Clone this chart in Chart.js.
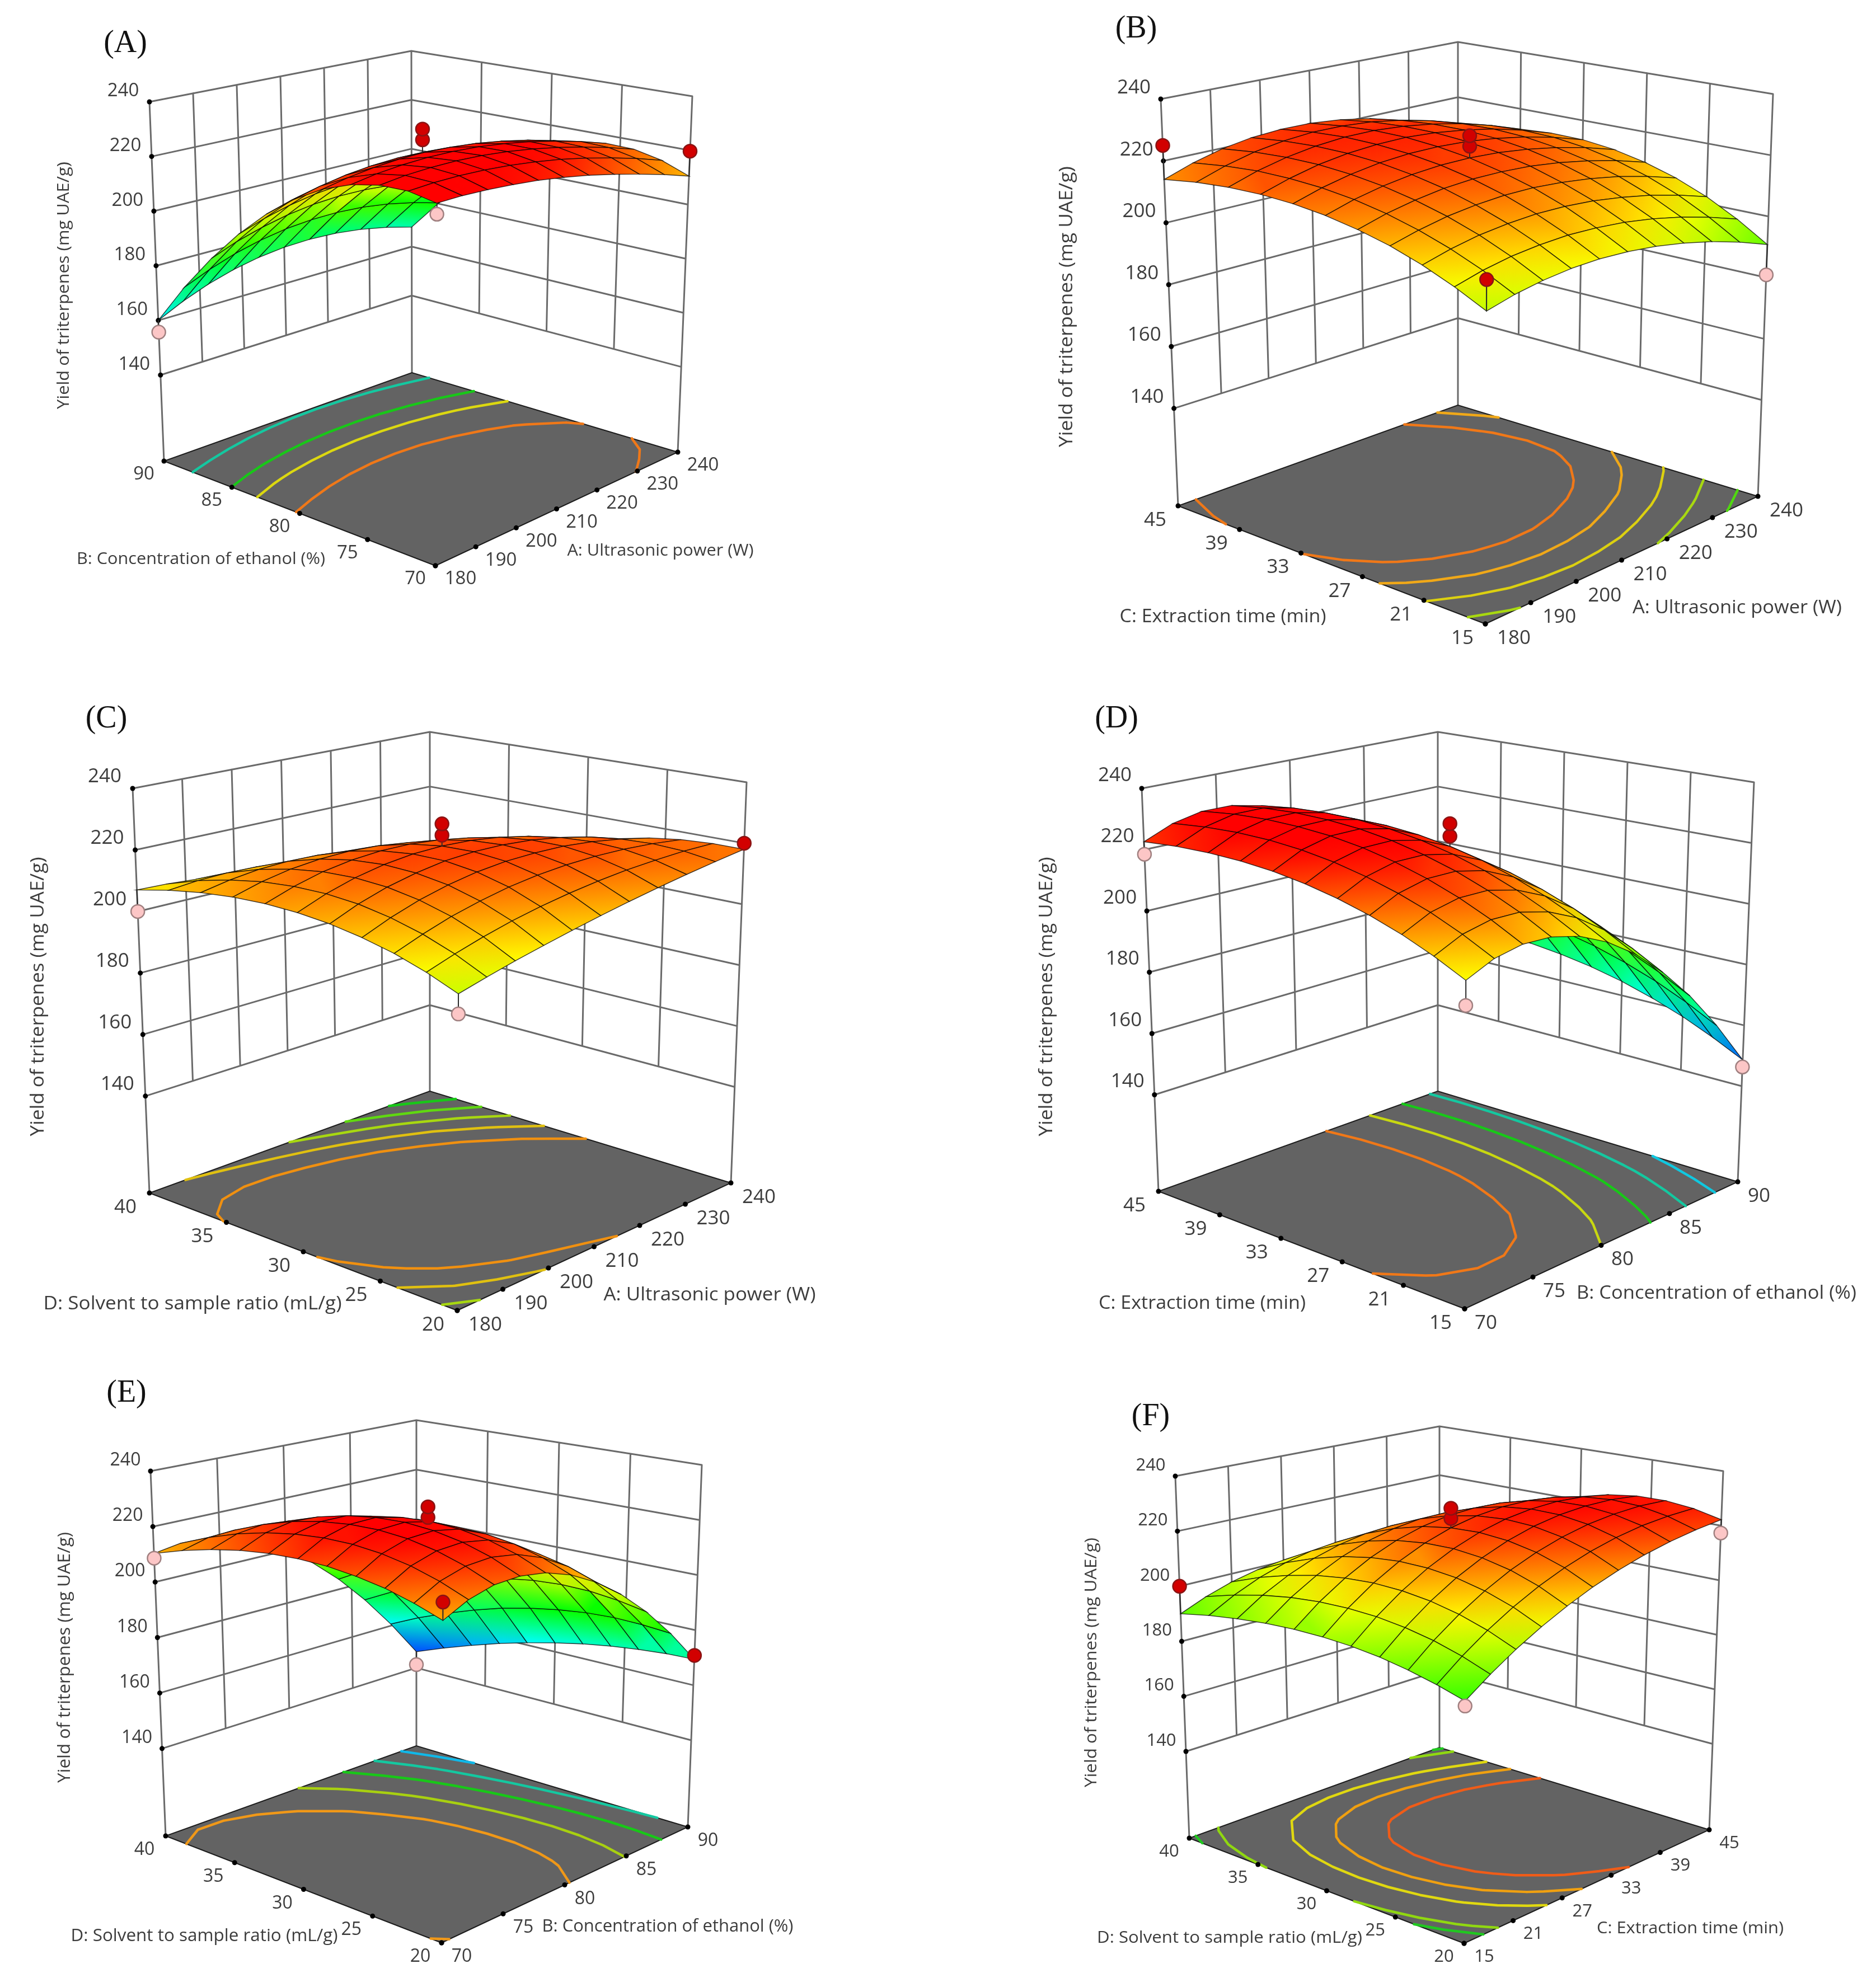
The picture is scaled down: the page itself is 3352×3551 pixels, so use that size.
<!DOCTYPE html>
<html>
<head>
<meta charset="utf-8">
<title>Yield of triterpenes response surfaces</title>
<style>
  html, body { margin: 0; padding: 0; background: #fff; }
  body { position: relative; width: 3352px; height: 3551px; overflow: hidden; }
  canvas { position: absolute; }
</style>
<script src="https://cdn.jsdelivr.net/npm/chart.js@4/dist/chart.umd.min.js"></script>
</head>
<body>
<script>
const powerTicks = [180, 190, 200, 210, 220, 230, 240];
const ethanolTicks = [70, 75, 80, 85, 90];
const timeTicks = [15, 21, 27, 33, 39, 45];
const ratioTicks = [20, 25, 30, 35, 40];
const yieldTicks = [140, 160, 180, 200, 220, 240];

// surfaces: one row per 10% step of the second factor, one column per 10% step of the first
const yieldA = [
  [227,227.1,226.7,226,225,223.5,221.7,219.4,216.8,213.9,210.5],
  [228.8,229.3,229.3,228.9,228.1,226.9,225.3,223.2,220.7,217.8,214.4],
  [228.6,229.6,230,230,229.5,228.5,227,225.1,222.7,219.9,216.6],
  [226.6,228,228.8,229.1,228.9,228.2,226.9,225.2,222.9,220.2,216.9],
  [222.8,224.5,225.7,226.4,226.5,226,225,223.4,221.3,218.6,215.3],
  [217,219.2,220.8,221.8,222.2,222,221.2,219.8,217.8,215.2,212],
  [209.4,212,214,215.3,216,216.1,215.6,214.3,212.5,210,206.8],
  [199.8,202.9,205.3,207,208,208.4,208,207,205.3,202.9,199.9],
  [188.4,192,194.7,196.8,198.2,198.8,198.7,197.9,196.3,194,191.1],
  [175.2,179.1,182.3,184.7,186.4,187.3,187.5,186.9,185.5,183.3,180.4],
  [160,164.4,168,170.8,172.8,174,174.4,174,172.8,170.8,168]
];
const yieldB = [
  [198.7,200.9,202.4,203.3,203.5,203,201.9,200.1,197.7,194.6,190.8],
  [203.3,205.6,207.2,208.1,208.5,208.1,207.2,205.6,203.4,200.5,197],
  [207.3,209.6,211.3,212.3,212.8,212.6,211.8,210.3,208.3,205.6,202.3],
  [210.6,212.9,214.7,215.8,216.4,216.3,215.5,214.2,212.3,209.7,206.5],
  [213.1,215.6,217.4,218.7,219.3,219.2,218.6,217.3,215.4,212.9,209.7],
  [215,217.6,219.5,220.8,221.5,221.5,220.9,219.6,217.7,215.2,212],
  [216.2,218.9,220.9,222.3,223,223,222.4,221.1,219.2,216.6,213.3],
  [216.7,219.5,221.7,223.1,223.8,223.9,223.2,221.8,219.8,217,213.5],
  [216.5,219.5,221.7,223.2,224,224,223.2,221.7,219.5,216.5,212.8],
  [215.6,218.7,221.1,222.6,223.4,223.3,222.5,220.8,218.4,215.2,211.1],
  [214,217.3,219.8,221.4,222.1,222,221,219.2,216.4,212.9,208.4]
];
const yieldC = [
  [199.6,201.9,204.1,206.1,208.1,210,211.8,213.5,215.1,216.6,218],
  [203.5,206.4,209,211.3,213.2,214.8,216.1,217.1,217.7,218.1,218],
  [206.7,210,212.9,215.2,217.1,218.4,219.2,219.5,219.3,218.6,217.4],
  [209.1,212.7,215.7,218,219.7,220.7,221,220.8,219.8,218.2,216],
  [210.9,214.6,217.5,219.6,221.1,221.7,221.6,220.8,219.2,216.9,213.8],
  [212,215.5,218.2,220.1,221.2,221.5,221,219.7,217.6,214.7,211],
  [212.4,215.5,217.9,219.4,220.1,220,219.1,217.4,214.9,211.6,207.4],
  [212.1,214.7,216.5,217.5,217.8,217.3,216,214,211.1,207.5,203.2],
  [211.1,212.9,214.1,214.5,214.2,213.3,211.6,209.3,206.3,202.6,198.2],
  [209.4,210.3,210.6,210.3,209.4,208,206,203.5,200.4,196.7,192.4],
  [207,206.7,206,204.9,203.4,201.5,199.2,196.5,193.4,189.9,186]
];
const yieldD = [
  [203.8,207.6,209.3,208.9,206.5,202,195.5,186.8,176.2,163.4,148.6],
  [208.5,212.5,214.4,214.2,211.8,207.4,200.8,192.2,181.4,168.5,153.5],
  [212.6,216.8,218.8,218.7,216.4,212,205.5,196.8,186,173,157.9],
  [216,220.3,222.5,222.5,220.3,215.9,209.4,200.7,189.9,176.8,161.6],
  [218.8,223.2,225.5,225.5,223.4,219.1,212.6,203.9,193.1,180,164.8],
  [221,225.5,227.8,227.9,225.8,221.5,215,206.4,195.5,182.5,167.3],
  [222.6,227.1,229.4,229.5,227.4,223.2,216.7,208.1,197.4,184.4,169.2],
  [223.5,228,230.2,230.3,228.3,224.1,217.7,209.2,198.5,185.6,170.6],
  [223.8,228.2,230.4,230.5,228.4,224.2,217.9,209.5,198.9,186.2,171.3],
  [223.5,227.7,229.9,229.9,227.8,223.6,217.4,209,198.6,186.1,171.5],
  [222.6,226.6,228.6,228.5,226.4,222.3,216.1,207.9,197.6,185.3,171]
];
const yieldE = [
  [211.7,215.9,218.3,218.7,217.3,214,208.8,201.8,192.9,182.1,169.4],
  [215,219.7,222.3,222.9,221.4,217.8,212.2,204.5,194.7,182.9,169.1],
  [217.6,222.6,225.3,225.9,224.3,220.5,214.4,206.2,195.8,183.2,168.3],
  [219.3,224.5,227.3,227.8,226,222,215.6,206.9,196,182.7,167.1],
  [220.4,225.5,228.2,228.6,226.6,222.3,215.6,206.6,195.3,181.5,165.5],
  [220.6,225.5,228,228.2,226,221.5,214.6,205.3,193.7,179.7,163.4],
  [220.1,224.6,226.8,226.7,224.3,219.5,212.5,203.1,191.3,177.3,160.9],
  [218.8,222.8,224.6,224.1,221.4,216.4,209.2,199.8,188.1,174.1,158],
  [216.7,220.1,221.3,220.4,217.3,212.2,204.9,195.5,184,170.3,154.6],
  [213.9,216.4,216.9,215.5,212.1,206.8,199.5,190.2,179,165.9,150.8],
  [210.3,211.8,211.5,209.5,205.7,200.2,193,184,173.2,160.7,146.5]
];
const yieldF = [
  [186.3,192.3,197.8,202.7,207.1,211,214.3,217.1,219.3,221,222.2],
  [189.1,195.8,201.8,207.1,211.7,215.6,218.8,221.3,223.1,224.1,224.5],
  [191.4,198.6,204.9,210.4,215.1,218.9,221.9,224.1,225.4,226,225.6],
  [193.2,200.6,207.1,212.7,217.3,221,223.8,225.6,226.5,226.5,225.5],
  [194.4,201.9,208.4,213.9,218.4,221.9,224.4,225.8,226.3,225.7,224.1],
  [195,202.4,208.8,214.1,218.3,221.5,223.6,224.7,224.7,223.6,221.5],
  [195.1,202.2,208.2,213.2,217.1,219.9,221.6,222.2,221.8,220.3,217.7],
  [194.6,201.3,206.8,211.3,214.7,217,218.3,218.4,217.6,215.6,212.6],
  [193.6,199.6,204.4,208.3,211.1,212.9,213.6,213.3,212,209.7,206.3],
  [192.1,197.1,201.2,204.3,206.4,207.5,207.7,206.9,205.2,202.4,198.8],
  [190,193.9,197,199.2,200.5,200.9,200.5,199.2,197,193.9,190]
];

// design points: first factor, second factor, yield
const redA = [[210, 80, 226.6], [210, 80, 230.5], [240, 70, 219.7]];
const pinkA = [[180, 90, 155.7], [180, 70, 223.4]];
const redB = [[210, 30, 225.3], [210, 30, 228.7], [180, 45, 225], [180, 15, 207.8]];
const pinkB = [[240, 15, 180.9]];
const redC = [[210, 30, 225], [210, 30, 228.7], [240, 20, 220]];
const pinkC = [[180, 40, 200], [180, 20, 193.8]];
const redD = [[80, 30, 224.8], [80, 30, 228.9]];
const pinkD = [[70, 45, 218.5], [70, 15, 196.5], [90, 15, 146.3]];
const redE = [[80, 30, 223.7], [80, 30, 227.5], [70, 20, 217.6], [90, 20, 170.8]];
const pinkE = [[70, 40, 208.6], [90, 40, 141.3]];
const redF = [[30, 30, 224.9], [30, 30, 228.6], [15, 40, 200]];
const pinkF = [[15, 20, 184.7], [45, 20, 217.3]];

// contour levels on the floor
const levelsA = [216, 204, 194, 176];
const levelsB = [216.1, 211.7, 207, 201.3, 195];
const levelsC = [211.5, 206.5, 201.5, 196.5, 191.5];
const levelsD = [216, 202, 188.5, 175, 161];
const levelsE = [213, 198, 183, 169, 155];
const levelsF = [216.3, 210.2, 204.3, 194.4, 191];

const powerTitle = "A: Ultrasonic power (W)";
const ethanolTitle = "B: Concentration of ethanol (%)";
const timeTitle = "C: Extraction time (min)";
const ratioTitle = "D: Solvent to sample ratio (mL/g)";
const yieldTitle = "Yield of triterpenes (mg UAE/g)";

const FLOOR_Z = 108.5;
const TOP_Z = 240;
const textColor = "#3c3c3c";

const panels = [
  {
    label: "(A)", labelAt: [224, 78], area: [0, 0, 1676, 1220], grid: yieldA, red: redA, pink: pinkA,
    levels: levelsA, levelColors: ["#f07818", "#dcd810", "#18c818", "#14c8a0"],
    xTicks: powerTicks, yTicks: ethanolTicks, xTitle: powerTitle, yTitle: ethanolTitle,
    floor: { f: [778, 1011], r: [1211, 808], l: [293, 824], b: [736, 666] },
    top: { f: [781, 292], r: [1237, 172], l: [267, 182], b: [735, 91] },
    xOff: [45, 24], yOff: [-36, 24], zOff: [-47, -19],
    xTitleAt: [1180, 984, 333], yTitleAt: [359, 999, 444], zTitleAt: [114, 510, 442], tickFont: 33, titleFont: 30
  },
  {
    label: "(B)", labelAt: [2030, 52], area: [1676, 0, 1676, 1220], grid: yieldB, red: redB, pink: pinkB,
    levels: levelsB, levelColors: ["#f07818", "#f0a818", "#dcd010", "#a8d810", "#50d810"],
    xTicks: powerTicks, yTicks: timeTicks, xTitle: powerTitle, yTitle: timeTitle,
    floor: { f: [2654, 1115], r: [3141, 887], l: [2105, 904], b: [2605, 724] },
    top: { f: [2657, 300], r: [3168, 168], l: [2074, 177], b: [2605, 75] },
    xOff: [51, 26], yOff: [-41, 26], zOff: [-48, -20],
    xTitleAt: [3104, 1086, 374], yTitleAt: [2185, 1102, 369], zTitleAt: [1906, 548, 502], tickFont: 35, titleFont: 33.5
  },
  {
    label: "(C)", labelAt: [190, 1285], area: [0, 1220, 1676, 1220], grid: yieldC, red: redC, pink: pinkC,
    levels: levelsC, levelColors: ["#f09010", "#e0c010", "#a8d810", "#60d810", "#18c818"],
    xTicks: powerTicks, yTicks: ratioTicks, xTitle: powerTitle, yTitle: ratioTitle,
    floor: { f: [817, 2342], r: [1306, 2114], l: [267, 2132], b: [768, 1950] },
    top: { f: [820, 1525], r: [1334, 1398], l: [237, 1409], b: [768, 1308] },
    xOff: [50, 26], yOff: [-43, 26], zOff: [-50, -21],
    xTitleAt: [1268, 2314, 379], yTitleAt: [344, 2330, 533], zTitleAt: [68, 1781, 499], tickFont: 35, titleFont: 33.5
  },
  {
    label: "(D)", labelAt: [1995, 1285], area: [1676, 1220, 1676, 1220], grid: yieldD, red: redD, pink: pinkD,
    levels: levelsD, levelColors: ["#f07818", "#c8d810", "#18c818", "#14c8a0", "#10c8e0"],
    xTicks: ethanolTicks, yTicks: timeTicks, xTitle: ethanolTitle, yTitle: timeTitle,
    floor: { f: [2617, 2339], r: [3105, 2112], l: [2070, 2129], b: [2569, 1950] },
    top: { f: [2620, 1529], r: [3134, 1398], l: [2040, 1409], b: [2569, 1308] },
    xOff: [38, 26], yOff: [-43, 26], zOff: [-48, -23],
    xTitleAt: [3067, 2311, 500], yTitleAt: [2148, 2329, 370], zTitleAt: [1870, 1781, 499], tickFont: 35, titleFont: 33.5
  },
  {
    label: "(E)", labelAt: [226, 2490], area: [0, 2440, 1676, 1111], grid: yieldE, red: redE, pink: pinkE,
    levels: levelsE, levelColors: ["#f09818", "#a8d010", "#18c818", "#14c8a0", "#10b8e8"],
    xTicks: ethanolTicks, yTicks: ratioTicks, xTitle: ethanolTitle, yTitle: ratioTitle,
    floor: { f: [789, 3472], r: [1229, 3265], l: [296, 3281], b: [744, 3120] },
    top: { f: [792, 2738], r: [1254, 2618], l: [269, 2629], b: [744, 2538] },
    xOff: [36, 25], yOff: [-38, 25], zOff: [-45, -19],
    xTitleAt: [1193, 3443, 449], yTitleAt: [365, 3460, 477], zTitleAt: [116, 2962, 448], tickFont: 32, titleFont: 30.5
  },
  {
    label: "(F)", labelAt: [2056, 2532], area: [1676, 2440, 1676, 1111], grid: yieldF, red: redF, pink: pinkF,
    levels: levelsF, levelColors: ["#f05c18", "#f0a010", "#e0d810", "#90d810", "#20c820"],
    xTicks: timeTicks, yTicks: ratioTicks, xTitle: timeTitle, yTitle: ratioTitle,
    floor: { f: [2616, 3473], r: [3054, 3270], l: [2125, 3285], b: [2572, 3123] },
    top: { f: [2619, 2741], r: [3079, 2629], l: [2100, 2638], b: [2572, 2549] },
    xOff: [36, 24], yOff: [-36, 24], zOff: [-44, -19],
    xTitleAt: [3020, 3446, 334], yTitleAt: [2197, 3463, 474], zTitleAt: [1950, 2971, 446], tickFont: 31, titleFont: 30
  }
];

const GAP = { x: NaN, y: NaN };
const colorStops = [
  [140, [0, 0, 255]],
  [161, [0, 255, 255]],
  [182, [0, 255, 0]],
  [204, [255, 255, 0]],
  [227, [255, 0, 0]]
];

const heatColor = (z) => {
  if (z <= colorStops[0][0]) return `rgb(${colorStops[0][1].join(",")})`;
  for (let i = 1; i < colorStops.length; i++) {
    if (z <= colorStops[i][0]) {
      const f = (z - colorStops[i - 1][0]) / (colorStops[i][0] - colorStops[i - 1][0]);
      const a = colorStops[i - 1][1], b = colorStops[i][1];
      return `rgb(${a.map((v, k) => Math.round(v + (b[k] - v) * f)).join(",")})`;
    }
  }
  return "rgb(255,0,0)";
};

const bilinear = (c, s, t, k) =>
  (1 - s) * (1 - t) * c.f[k] + s * (1 - t) * c.r[k] + (1 - s) * t * c.l[k] + s * t * c.b[k];

// s runs front to right, t runs front to left
const project = (p, s, t, z) => {
  const w = (z - FLOOR_Z) / (TOP_Z - FLOOR_Z);
  const x0 = bilinear(p.floor, s, t, 0), y0 = bilinear(p.floor, s, t, 1);
  const x1 = bilinear(p.top, s, t, 0), y1 = bilinear(p.top, s, t, 1);
  return { x: x0 + (x1 - x0) * w, y: y0 + (y1 - y0) * w };
};

const lineSet = (data, color, width) => ({
  data, showLine: true, pointRadius: 0, borderColor: color, borderWidth: width, fill: false,
  tension: 0, spanGaps: false, borderCapStyle: "round", borderJoinStyle: "round"
});

const wallLines = (p) => {
  const pts = [];
  const seg = (a, b) => pts.push(a, b, GAP);
  const xLast = p.xTicks.length - 1, yLast = p.yTicks.length - 1;
  yieldTicks.forEach((z) => {
    seg(project(p, 0, 1, z), project(p, 1, 1, z));
    seg(project(p, 1, 1, z), project(p, 1, 0, z));
  });
  p.xTicks.forEach((v, i) => {
    if (i > 0 && i < xLast) seg(project(p, i / xLast, 1, 140), project(p, i / xLast, 1, 240));
  });
  p.yTicks.forEach((v, i) => {
    if (i > 0 && i < yLast) seg(project(p, 1, i / yLast, 140), project(p, 1, i / yLast, 240));
  });
  seg(project(p, 0, 1, FLOOR_Z), project(p, 0, 1, 240));
  seg(project(p, 1, 1, FLOOR_Z), project(p, 1, 1, 240));
  seg(project(p, 1, 0, FLOOR_Z), project(p, 1, 0, 240));
  return lineSet(pts, "#6a6a6a", 3);
};

const floorSet = (p) => ({
  data: [[0, 0], [1, 0], [1, 1], [0, 1], [0, 0]].map(([s, t]) => project(p, s, t, FLOOR_Z)),
  showLine: true, pointRadius: 0, borderColor: "#1c1c1c", borderWidth: 2,
  backgroundColor: "#636363", fill: "shape", tension: 0
});

// walk the grid cell by cell and join the crossings of one level
const contourSet = (p, level, color) => {
  const n = p.grid.length - 1, pts = [];
  const cross = (a, b, sa, ta, sb, tb) => {
    const f = (level - a) / (b - a);
    return project(p, (sa + (sb - sa) * f) / n, (ta + (tb - ta) * f) / n, FLOOR_Z);
  };
  for (let j = 0; j < n; j++) {
    for (let i = 0; i < n; i++) {
      const a = p.grid[j][i], b = p.grid[j][i + 1], c = p.grid[j + 1][i + 1], d = p.grid[j + 1][i];
      const hits = [];
      if ((a < level) !== (b < level)) hits.push(cross(a, b, i, j, i + 1, j));
      if ((b < level) !== (c < level)) hits.push(cross(b, c, i + 1, j, i + 1, j + 1));
      if ((d < level) !== (c < level)) hits.push(cross(d, c, i, j + 1, i + 1, j + 1));
      if ((a < level) !== (d < level)) hits.push(cross(a, d, i, j, i, j + 1));
      if (hits.length === 2) pts.push(hits[0], hits[1], GAP);
      if (hits.length === 4) pts.push(hits[0], hits[3], GAP, hits[1], hits[2], GAP);
    }
  }
  return lineSet(pts, color, 4.5);
};

const cellSets = (p) => {
  const n = p.grid.length - 1, cells = [];
  for (let j = 0; j < n; j++) {
    for (let i = 0; i < n; i++) cells.push([i, j]);
  }
  // far cells first so near ones paint over them
  cells.sort((a, b) => (b[0] + b[1]) - (a[0] + a[1]));
  return cells.map(([i, j]) => {
    const corners = [[i, j], [i + 1, j], [i + 1, j + 1], [i, j + 1]].map(([a, b]) => ({
      z: p.grid[b][a], pos: project(p, a / n, b / n, p.grid[b][a])
    }));
    const sorted = [...corners].sort((a, b) => a.z - b.z);
    const low = sorted[0], high = sorted[3];
    return {
      data: [...corners, corners[0]].map((c) => c.pos),
      showLine: true, pointRadius: 0, tension: 0, fill: "shape",
      borderColor: "rgba(0,0,0,0.72)", borderWidth: 1.5,
      backgroundColor: (ctx) => {
        // canvas pixels are page pixels minus the panel origin
        const g = ctx.chart.ctx.createLinearGradient(
          low.pos.x - p.area[0], low.pos.y - p.area[1],
          high.pos.x - p.area[0], high.pos.y - p.area[1]);
        g.addColorStop(0, heatColor(low.z));
        g.addColorStop(1, heatColor(high.z));
        return g;
      }
    };
  });
};

const designSets = (p) => {
  const xMin = p.xTicks[0], xMax = p.xTicks[p.xTicks.length - 1];
  const yMin = p.yTicks[0], yMax = p.yTicks[p.yTicks.length - 1];
  const n = p.grid.length - 1;
  const stems = [];
  const place = (list) => list.map(([a, b, z]) => {
    const s = (a - xMin) / (xMax - xMin), t = (b - yMin) / (yMax - yMin);
    const at = project(p, s, t, z);
    stems.push(at, project(p, s, t, p.grid[Math.round(t * n)][Math.round(s * n)]), GAP);
    return at;
  });
  const pink = place(p.pink), red = place(p.red);
  const dots = (data, fill, edge) => ({
    data, showLine: false, pointRadius: 12, pointBackgroundColor: fill,
    pointBorderColor: edge, pointBorderWidth: 2.5
  });
  return [
    lineSet(stems, "#2a2a2a", 2),
    dots(pink, "#fcc6c6", "#a08080"),
    dots(red, "#d20000", "#8a1414")
  ];
};

const tickDots = (p) => {
  const data = [];
  yieldTicks.forEach((z) => data.push(project(p, 0, 1, z)));
  p.xTicks.forEach((v, i) => data.push(project(p, i / (p.xTicks.length - 1), 0, FLOOR_Z)));
  p.yTicks.forEach((v, i) => data.push(project(p, 0, i / (p.yTicks.length - 1), FLOOR_Z)));
  return { data, showLine: false, pointRadius: 4.5, pointBackgroundColor: "#000", pointBorderWidth: 0 };
};

const textPlugin = (p) => ({
  id: "panelText",
  afterDatasetsDraw(chart) {
    const { ctx, scales } = chart;
    const put = (text, x, y, font, color, angle, width) => {
      ctx.save();
      ctx.translate(scales.x.getPixelForValue(x), scales.y.getPixelForValue(y));
      if (angle) ctx.rotate(angle);
      ctx.font = font;
      ctx.fillStyle = color;
      ctx.textAlign = "center";
      ctx.textBaseline = "middle";
      if (width) ctx.scale(width / ctx.measureText(text).width, 1);
      ctx.fillText(text, 0, 0);
      ctx.restore();
    };
    const tickFont = `${p.tickFont}px "Open Sans"`;
    const titleFont = `${p.titleFont}px "Open Sans"`;
    yieldTicks.forEach((z) => {
      const a = project(p, 0, 1, z);
      put(String(z), a.x + p.zOff[0], a.y + p.zOff[1], tickFont, textColor);
    });
    p.xTicks.forEach((v, i) => {
      const a = project(p, i / (p.xTicks.length - 1), 0, FLOOR_Z);
      put(String(v), a.x + p.xOff[0], a.y + p.xOff[1], tickFont, textColor);
    });
    p.yTicks.forEach((v, i) => {
      const a = project(p, 0, i / (p.yTicks.length - 1), FLOOR_Z);
      put(String(v), a.x + p.yOff[0], a.y + p.yOff[1], tickFont, textColor);
    });
    put(p.xTitle, p.xTitleAt[0], p.xTitleAt[1], titleFont, textColor, 0, p.xTitleAt[2]);
    put(p.yTitle, p.yTitleAt[0], p.yTitleAt[1], titleFont, textColor, 0, p.yTitleAt[2]);
    put(yieldTitle, p.zTitleAt[0], p.zTitleAt[1], titleFont, textColor, -Math.PI / 2, p.zTitleAt[2]);
    put(p.label, p.labelAt[0], p.labelAt[1], '56px "Liberation Serif"', "#111");
  }
});

const drawPanel = (p) => {
  const [left, top, width, height] = p.area;
  const canvas = document.createElement("canvas");
  canvas.width = width;
  canvas.height = height;
  canvas.style.left = left + "px";
  canvas.style.top = top + "px";
  canvas.style.width = width + "px";
  canvas.style.height = height + "px";
  document.body.appendChild(canvas);

  // chart.js paints the last dataset first, so the list is reversed to paint back to front
  const layers = [
    wallLines(p),
    floorSet(p),
    ...p.levels.map((level, i) => contourSet(p, level, p.levelColors[i])),
    tickDots(p),
    ...cellSets(p),
    ...designSets(p)
  ].reverse();

  new Chart(canvas, {
    type: "scatter",
    data: { datasets: layers },
    options: {
      responsive: false,
      animation: false,
      events: [],
      layout: { padding: 0, autoPadding: false },
      plugins: { legend: { display: false }, tooltip: { enabled: false } },
      scales: {
        x: { type: "linear", display: false, min: left, max: left + width },
        y: { type: "linear", display: false, reverse: true, min: top, max: top + height }
      }
    },
    plugins: [textPlugin(p)]
  });
};

panels.forEach(drawPanel);
</script>
</body>
</html>
